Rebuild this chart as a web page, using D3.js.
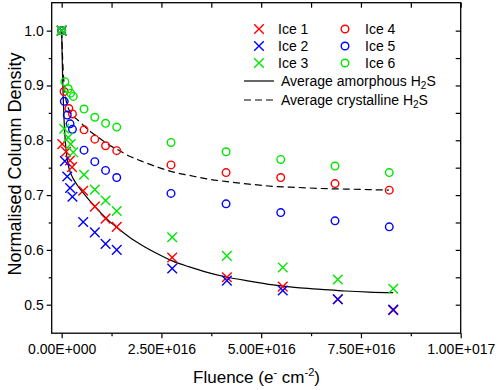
<!DOCTYPE html>
<html>
<head>
<meta charset="utf-8">
<script src="https://cdnjs.cloudflare.com/ajax/libs/d3/7.8.5/d3.min.js"></script>
<style>
  body { margin: 0; background: #fff; }
  svg text { font-family: "Liberation Sans", Arial, sans-serif; fill: #000; }
</style>
</head>
<body>
<div id="chart"></div>
<script>
// Normalised column density vs electron fluence, six ices + two average fits

var fluenceIce1 = [0, 0.015e16, 0.11e16, 0.21e16, 0.26e16, 0.54e16, 0.83e16, 1.1e16, 1.38e16, 2.77e16, 4.14e16, 5.54e16, 6.92e16, 8.31e16];
var densityIce1 = [1.0, 0.793, 0.779, 0.763, 0.751, 0.708, 0.679, 0.657, 0.642, 0.586, 0.550, 0.533, 0.510, 0.490];

var fluenceIce2 = [0, 0.08e16, 0.14e16, 0.21e16, 0.27e16, 0.54e16, 0.83e16, 1.1e16, 1.38e16, 2.77e16, 4.14e16, 5.54e16, 6.92e16, 8.31e16];
var densityIce2 = [1.0, 0.762, 0.734, 0.713, 0.697, 0.651, 0.632, 0.611, 0.600, 0.566, 0.544, 0.526, 0.510, 0.491];

var fluenceIce3 = [0, 0.065e16, 0.165e16, 0.225e16, 0.29e16, 0.56e16, 0.83e16, 1.1e16, 1.38e16, 2.77e16, 4.14e16, 5.54e16, 6.92e16, 8.31e16];
var densityIce3 = [1.0, 0.821, 0.805, 0.793, 0.778, 0.737, 0.710, 0.690, 0.671, 0.623, 0.589, 0.568, 0.546, 0.529];

var fluenceIce4 = [0, 0.06e16, 0.18e16, 0.27e16, 0.56e16, 0.83e16, 1.1e16, 1.38e16, 2.74e16, 4.12e16, 5.49e16, 6.85e16, 8.21e16];
var densityIce4 = [1.0, 0.889, 0.858, 0.848, 0.819, 0.802, 0.790, 0.781, 0.755, 0.741, 0.732, 0.721, 0.709];

var fluenceIce5 = [0, 0.065e16, 0.14e16, 0.21e16, 0.27e16, 0.56e16, 0.83e16, 1.1e16, 1.38e16, 2.74e16, 4.12e16, 5.49e16, 6.85e16, 8.21e16];
var densityIce5 = [1.0, 0.871, 0.846, 0.830, 0.820, 0.782, 0.761, 0.745, 0.732, 0.703, 0.684, 0.668, 0.653, 0.642];

var fluenceIce6 = [0, 0.08e16, 0.165e16, 0.225e16, 0.29e16, 0.56e16, 0.83e16, 1.1e16, 1.38e16, 2.74e16, 4.12e16, 5.49e16, 6.85e16, 8.21e16];
var densityIce6 = [1.0, 0.907, 0.894, 0.886, 0.880, 0.857, 0.842, 0.831, 0.824, 0.796, 0.779, 0.765, 0.753, 0.741];

// average curves
var fluenceAmorphous = [0, 0.01e16, 0.02e16, 0.03e16, 0.045e16, 0.06e16, 0.08e16, 0.1e16, 0.13e16, 0.17e16, 0.22e16, 0.29e16, 0.4e16, 0.54e16, 0.7e16, 0.85e16, 1.0e16, 1.2e16, 1.4e16, 1.7e16, 2.0e16, 2.4e16, 2.8e16, 3.2e16, 3.6e16, 4.1e16, 4.7e16, 5.3e16, 5.9e16, 6.5e16, 7.1e16, 7.7e16, 8.31e16];
var densityAmorphous = [1.0, 0.960, 0.927, 0.899, 0.864, 0.837, 0.810, 0.790, 0.770, 0.753, 0.741, 0.730, 0.717, 0.704, 0.690, 0.678, 0.666, 0.652, 0.640, 0.623, 0.609, 0.593, 0.579, 0.569, 0.560, 0.551, 0.543, 0.536, 0.531, 0.528, 0.525, 0.523, 0.522];

var fluenceCrystalline = [0, 0.01e16, 0.02e16, 0.03e16, 0.045e16, 0.06e16, 0.08e16, 0.1e16, 0.13e16, 0.17e16, 0.22e16, 0.3e16, 0.4e16, 0.55e16, 0.7e16, 0.85e16, 1.0e16, 1.2e16, 1.4e16, 1.7e16, 2.0e16, 2.4e16, 2.8e16, 3.2e16, 3.6e16, 4.1e16, 4.7e16, 5.3e16, 5.9e16, 6.5e16, 7.1e16, 7.7e16, 8.2e16];
var densityCrystalline = [1.0, 0.975, 0.955, 0.938, 0.918, 0.903, 0.888, 0.877, 0.867, 0.858, 0.851, 0.843, 0.837, 0.827, 0.817, 0.809, 0.801, 0.791, 0.783, 0.771, 0.762, 0.751, 0.742, 0.736, 0.730, 0.725, 0.720, 0.716, 0.714, 0.712, 0.711, 0.710, 0.709];

var xTicks = [0, 2.5e16, 5e16, 7.5e16, 1e17];
var xTickLabels = ["0.00E+000", "2.50E+016", "5.00E+016", "7.50E+016", "1.00E+017"];
var xMinorTicks = [1.25e16, 3.75e16, 6.25e16, 8.75e16];
var yTicks = [0.5, 0.6, 0.7, 0.8, 0.9, 1.0];
var yTickLabels = ["0.5", "0.6", "0.7", "0.8", "0.9", "1.0"];
var yMinorTicks = [0.55, 0.65, 0.75, 0.85, 0.95];

var red = "#ff0000";
var blue = "#0000ff";
var green = "#00e600";

var series = [
  {name: "Ice 1", x: fluenceIce1, y: densityIce1, color: red, shape: "cross"},
  {name: "Ice 4", x: fluenceIce4, y: densityIce4, color: red, shape: "circle"},
  {name: "Ice 2", x: fluenceIce2, y: densityIce2, color: blue, shape: "cross"},
  {name: "Ice 5", x: fluenceIce5, y: densityIce5, color: blue, shape: "circle"},
  {name: "Ice 3", x: fluenceIce3, y: densityIce3, color: green, shape: "cross"},
  {name: "Ice 6", x: fluenceIce6, y: densityIce6, color: green, shape: "circle"}
];

var width = 498;
var height = 390;
var plotLeft = 51.7, plotRight = 460.7, plotTop = 2.7, plotBottom = 333.2;

/* Scale */
var xScale = d3.scaleLinear()
  .domain([-0.25e16, 1e17])
  .range([plotLeft, plotRight]);

var yScale = d3.scaleLinear()
  .domain([0.448, 1.051])
  .range([plotBottom, plotTop]);

/* Add svg */
var svg = d3.select("#chart").append("svg")
  .attr("width", width)
  .attr("height", height);

svg.append("rect")
  .attr("width", width)
  .attr("height", height)
  .attr("fill", "#fff");

/* Axes: bottom/left ticks point out, top/right point in */
function styleAxis(g) {
  g.select(".domain").remove();
  g.selectAll("line").attr("stroke", "#000").attr("stroke-width", 1.2);
}

svg.append("g")
  .attr("transform", "translate(0," + plotBottom + ")")
  .call(d3.axisBottom(xScale).tickValues(xTicks).tickSize(5).tickPadding(6)
    .tickFormat((d, i) => xTickLabels[i]))
  .call(styleAxis)
  .selectAll("text")
  .attr("font-size", "14px");

svg.append("g")
  .attr("transform", "translate(0," + plotBottom + ")")
  .call(d3.axisBottom(xScale).tickValues(xMinorTicks).tickSize(3).tickFormat(""))
  .call(styleAxis);

svg.append("g")
  .attr("transform", "translate(0," + plotTop + ")")
  .call(d3.axisTop(xScale).tickValues(xTicks.concat(xMinorTicks)).tickSize(-5).tickFormat(""))
  .call(styleAxis);

svg.append("g")
  .attr("transform", "translate(" + plotLeft + ",0)")
  .call(d3.axisLeft(yScale).tickValues(yTicks).tickSize(5).tickPadding(3)
    .tickFormat((d, i) => yTickLabels[i]))
  .call(styleAxis)
  .selectAll("text")
  .attr("font-size", "14px");

svg.append("g")
  .attr("transform", "translate(" + plotLeft + ",0)")
  .call(d3.axisLeft(yScale).tickValues(yMinorTicks).tickSize(3).tickFormat(""))
  .call(styleAxis);

svg.append("g")
  .attr("transform", "translate(" + plotRight + ",0)")
  .call(d3.axisRight(yScale).tickValues(yTicks.concat(yMinorTicks)).tickSize(-5).tickFormat(""))
  .call(styleAxis);

svg.append("rect")
  .attr("x", plotLeft)
  .attr("y", plotTop)
  .attr("width", plotRight - plotLeft)
  .attr("height", plotBottom - plotTop)
  .attr("fill", "none")
  .attr("stroke", "#000")
  .attr("stroke-width", 1.3);

/* Axis titles */
var xTitle = svg.append("text")
  .attr("x", 256.5)
  .attr("y", 383)
  .attr("text-anchor", "middle")
  .attr("font-size", "17px");
xTitle.append("tspan").text("Fluence (e");
xTitle.append("tspan").attr("font-size", "11px").attr("dy", -7).text("-");
xTitle.append("tspan").attr("dy", 7).text(" cm");
xTitle.append("tspan").attr("font-size", "11px").attr("dy", -7).text("-2");
xTitle.append("tspan").attr("dy", 7).text(")");

svg.append("text")
  .attr("transform", "translate(21,164) rotate(-90)")
  .attr("text-anchor", "middle")
  .attr("font-size", "18px")
  .text("Normalised Column Density");

/* Fit lines */
var line = d3.line()
  .x(d => xScale(d[0]))
  .y(d => yScale(d[1]))
  .curve(d3.curveMonotoneX);

svg.append("path")
  .attr("d", line(d3.zip(fluenceAmorphous, densityAmorphous)))
  .attr("fill", "none")
  .attr("stroke", "#000")
  .attr("stroke-width", 1.2);

svg.append("path")
  .attr("d", line(d3.zip(fluenceCrystalline, densityCrystalline)))
  .attr("fill", "none")
  .attr("stroke", "#000")
  .attr("stroke-width", 1.2)
  .attr("stroke-dasharray", "7,4");

/* Markers */
function drawMarker(g, shape, color, cx, cy) {
  if (shape === "circle") {
    g.append("circle")
      .attr("cx", cx)
      .attr("cy", cy)
      .attr("r", 3.8)
      .attr("fill", "none")
      .attr("stroke", color)
      .attr("stroke-width", 1.4);
  } else {
    var s = 4.8;
    g.append("path")
      .attr("d", "M" + (cx - s) + "," + (cy - s) + "L" + (cx + s) + "," + (cy + s) +
                 "M" + (cx - s) + "," + (cy + s) + "L" + (cx + s) + "," + (cy - s))
      .attr("stroke", color)
      .attr("stroke-width", 1.4);
  }
}

var marks = svg.append("g").attr("class", "marks");
series.forEach(function(s) {
  var g = marks.append("g");
  s.x.forEach(function(x, i) {
    drawMarker(g, s.shape, s.color, xScale(x), yScale(s.y[i]));
  });
});

/* Legend */
var legendRows = [29, 46, 63];
var legend = svg.append("g").attr("class", "legend");
var crosses = series.filter(d => d.shape === "cross");
var circles = series.filter(d => d.shape === "circle");

crosses.forEach(function(s, i) {
  drawMarker(legend, s.shape, s.color, 259, legendRows[i]);
  legend.append("text").attr("x", 278).attr("y", legendRows[i] + 5)
    .attr("font-size", "14px").text(s.name);
});
circles.forEach(function(s, i) {
  drawMarker(legend, s.shape, s.color, 345, legendRows[i]);
  legend.append("text").attr("x", 365).attr("y", legendRows[i] + 5)
    .attr("font-size", "14px").text(s.name);
});

var lineNames = [["Average amorphous H", "2", "S"], ["Average crystalline H", "2", "S"]];
var lineRows = [81, 100];
lineNames.forEach(function(n, i) {
  legend.append("line")
    .attr("x1", 244).attr("x2", 274)
    .attr("y1", lineRows[i]).attr("y2", lineRows[i])
    .attr("stroke", "#000")
    .attr("stroke-width", 1.2)
    .attr("stroke-dasharray", i === 1 ? "7,4" : null);
  var t = legend.append("text").attr("x", 281).attr("y", lineRows[i] + 5)
    .attr("font-size", "14px");
  t.append("tspan").text(n[0]);
  t.append("tspan").attr("font-size", "10px").attr("dy", 3).text(n[1]);
  t.append("tspan").attr("dy", -3).text(n[2]);
});
</script>
</body>
</html>
